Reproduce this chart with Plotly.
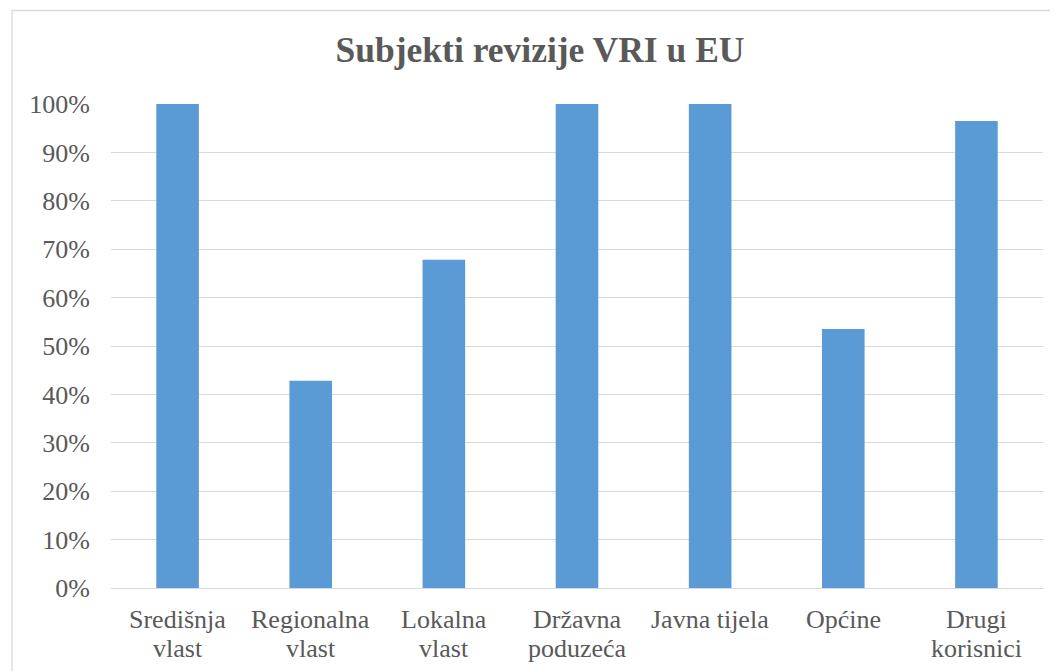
import plotly.graph_objects as go

categories = ["Središnja vlast", "Regionalna vlast", "Lokalna vlast", "Državna poduzeća",
              "Javna tijela", "Općine", "Drugi korisnici"]
label_lines = [["Središnja", "vlast"], ["Regionalna", "vlast"], ["Lokalna", "vlast"],
               ["Državna", "poduzeća"], ["Javna tijela"], ["Općine"], ["Drugi", "korisnici"]]
values = [1.00, 0.428, 0.678, 1.00, 1.00, 0.535, 0.965]
tick_vals = [i / 10 for i in range(11)]
tick_text = [f"{i*10}%" for i in range(11)]

# page has an 8px body margin; work in figure pixel coordinates
W, H = 1050, 663
ml, mr, mt, mb = 103, 15, 96, 83
pw, ph = W - ml - mr, H - mt - mb


def px2paper_x(px):
    return (px - ml) / pw


def px2paper_y(py):
    return (H - mb - py) / ph


fig = go.Figure(go.Bar(x=categories, y=values, marker=dict(color="#5B9BD5", line=dict(width=0)),
                       width=0.32))

fig.add_shape(type="rect", xref="paper", yref="paper",
              x0=px2paper_x(4), x1=px2paper_x(1070), y0=px2paper_y(700), y1=px2paper_y(2.5),
              line=dict(color="#D9D9D9", width=1.3), fillcolor="rgba(0,0,0,0)", layer="below")

font_family = "Liberation Serif, Times New Roman, serif"
gray = "#595959"

annotations = []
line_y = [611, 640]
for cat, lines in zip(categories, label_lines):
    for i, ln in enumerate(lines):
        annotations.append(dict(x=cat, xref="x", y=px2paper_y(line_y[i]), yref="paper",
                                text=ln, showarrow=False, xanchor="center", yanchor="middle",
                                font=dict(family=font_family, size=26, color=gray)))

fig.update_layout(
    width=W, height=H,
    margin=dict(l=ml, r=mr, t=mt, b=mb),
    paper_bgcolor="white", plot_bgcolor="white",
    title=dict(text="<b>Subjekti revizije VRI u EU</b>", x=532 / W, xref="container", xanchor="center",
               y=1 - 42 / H, yref="container", yanchor="middle",
               font=dict(family=font_family, size=35.5, color=gray)),
    font=dict(family=font_family, size=26, color=gray),
    showlegend=False,
    annotations=annotations,
    xaxis=dict(showgrid=False, showline=False, zeroline=False, ticks="", showticklabels=False),
    yaxis=dict(range=[0, 1.0], tickvals=tick_vals, ticktext=tick_text, showgrid=True,
               gridcolor="#D9D9D9", gridwidth=1.3, zeroline=True, zerolinecolor="#D9D9D9",
               zerolinewidth=1.3, showline=False, ticks="", tickfont=dict(size=26),
               ticklabelstandoff=20),
)
fig.write_html("out.html")
